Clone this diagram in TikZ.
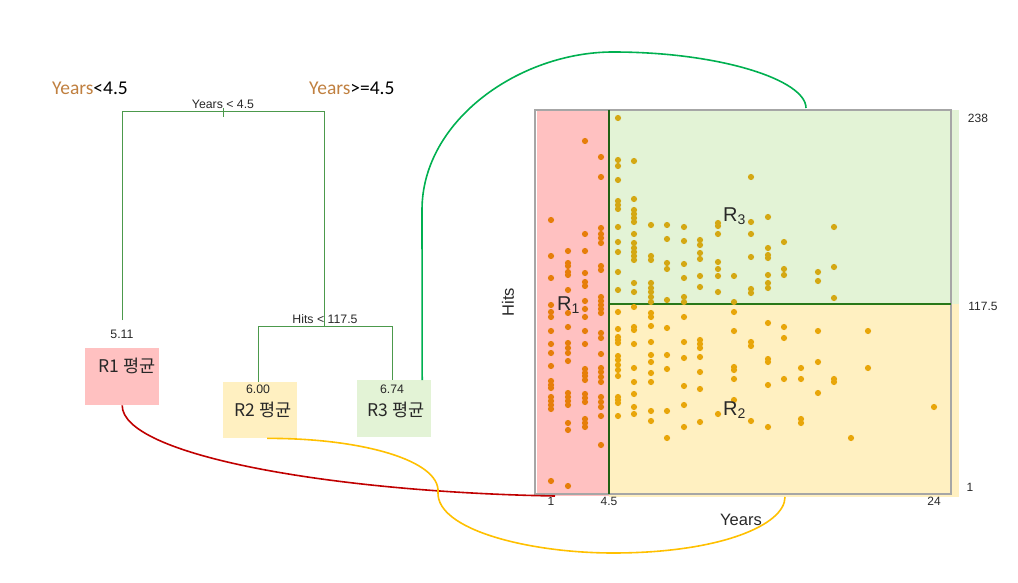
\documentclass[tikz,border=0pt]{standalone}
\usepackage{fontspec}
\setmainfont{Liberation Sans}
\newfontfamily\krfont{Noto Sans CJK KR}
\newfontfamily\calfont{Carlito}
\definecolor{treegreen}{RGB}{76,153,76}
\definecolor{pinkfill}{RGB}{255,193,193}
\definecolor{yelfill}{RGB}{255,240,193}
\definecolor{grnfill}{RGB}{227,243,214}
\definecolor{orangept}{RGB}{230,126,10}
\definecolor{goldpt}{RGB}{212,168,20}
\definecolor{yelpt}{RGB}{232,166,10}
\definecolor{brownlbl}{RGB}{192,128,64}
\definecolor{curvered}{RGB}{192,0,0}
\definecolor{curveyel}{RGB}{255,192,0}
\definecolor{curvegrn}{RGB}{0,176,80}
\definecolor{splitgrn}{RGB}{40,120,25}
\definecolor{txtgray}{RGB}{40,40,40}
\begin{document}
\begin{tikzpicture}[x=1pt,y=-1pt,
  treeline/.style={draw=treegreen,line width=1pt},
  small/.style={font=\fontsize{12.3}{14}\selectfont,text=txtgray,inner sep=0pt},
  axlbl/.style={font=\fontsize{12}{14}\selectfont,text=txtgray,inner sep=0pt},
  leafbox/.style={draw=none,inner sep=0pt,minimum width=74pt},
  leaftxt/.style={font=\krfont\fontsize{17.5}{19}\selectfont,text=txtgray,inner sep=0pt},
  reglbl/.style={font=\fontsize{20}{22}\selectfont,text=txtgray,inner sep=0pt},
  toplbl/.style={font=\calfont\fontsize{19.5}{21}\selectfont,inner sep=0pt},
  conn/.style={line width=1.6pt}]
\useasboundingbox (0,0) rectangle (1018,583);

% top labels
\node[toplbl,anchor=west] (lblA) at (52,88) {\textcolor{brownlbl}{Years}<4.5};
\node[toplbl,anchor=west] (lblB) at (309,88) {\textcolor{brownlbl}{Years}>=4.5};

% tree
\node[small] (s1) at (223,104) {Years < 4.5};
\coordinate (tL) at (122,112);
\coordinate (tR) at (324,112);
\draw[treeline] (122,320) -- (tL) -- (tR) -- (324,326);
\draw[treeline] (223,108) -- (223,117);
\node[small] (s2) at (325,319) {Hits < 117.5};
\draw[treeline] (258,382) -- (258,326) -- (392,326) -- (392,380);
\node[small] (v1) at (122,334) {5.11};

% leaf boxes
\node[leafbox,fill=pinkfill,minimum height=57pt,anchor=north west] (r1) at (85,348) {};
\node[leafbox,fill=yelfill,minimum height=56pt,anchor=north west] (r2) at (223,382) {};
\node[leafbox,fill=grnfill,minimum height=57pt,anchor=north west] (r3) at (357,380) {};
\node[leaftxt] (r1t) at (127,366) {R1 평균};
\node[small] (v2) at (258,389) {6.00};
\node[leaftxt] (r2t) at (263,410) {R2 평균};
\node[small] (v3) at (392,389) {6.74};
\node[leaftxt] (r3t) at (396,410) {R3 평균};

% plot regions
\fill[pinkfill] (537,110) rectangle (609,496);
\fill[grnfill] (609,110) rectangle (959,304);
\fill[yelfill] (609,304) rectangle (959,497);
\draw[gray!70,line width=1.6pt] (535,110) rectangle (951,494);
\draw[splitgrn,line width=2pt] (609,304) -- (951,304);
\draw[splitgrn!80!black,line width=1.6pt] (609,110) -- (609,494);

% points
\foreach \x/\ys in {551/{220,256,278,305,312,317,331,344,353,366,381,385,388,397,401,405,409,481},
                    568/{251,263,266,272,275,290,313,327,343,348,353,361,393,397,401,405,423,430,486},
                    585/{141,234,251,273,282,286,301,309,317,331,344,369,373,376,380,394,398,402,419,423,427},
                    601/{157,177,228,234,238,243,266,270,297,301,305,309,313,333,338,354,368,372,377,382,397,402,407,416,445}}
  \foreach \y in \ys \fill[orangept] (\x,\y) circle (3.1pt);
\foreach \x/\ys in {618/{118,160,166,180,201,205,209,227,242,252,272,290},
                    634/{161,199,210,214,218,222,234,243,248,252,256,260,283,292},
                    651/{225,256,260,283,288,292,297,302},
                    667/{225,239,263,269,300},
                    684/{227,241,264,278,297,302},
                    700/{240,245,253,259,276,287},
                    718/{223,226,234,262,269,276,292},
                    734/{276,302},
                    751/{177,222,234,257,289,293},
                    768/{217,248,255,258,275,283,288},
                    784/{242,269,275},
                    818/{272,281},
                    834/{227,267,298}}
  \foreach \y in \ys \fill[goldpt] (\x,\y) circle (3.1pt);
\foreach \x/\ys in {618/{312,329,337,340,343,356,360,365,370,376,397,400,403,416},
                    634/{307,327,330,344,368,382,394,407,414},
                    651/{313,317,326,342,355,362,373,382,411,421},
                    667/{328,355,369,411,438},
                    684/{317,342,358,386,405,427},
                    700/{340,344,348,357,372,389,422},
                    718/{414},
                    734/{312,331,367,370,379,400},
                    751/{342,346,421},
                    768/{323,359,362,385,427},
                    784/{327,338,379},
                    801/{368,379,419,423},
                    818/{331,362,393},
                    834/{379,382},
                    851/{438},
                    868/{331,368},
                    934/{407}}
  \foreach \y in \ys \fill[yelpt] (\x,\y) circle (3.1pt);

% region labels
\node[reglbl,anchor=west] (R1l) at (557,305) {R\textsubscript{1}};
\node[reglbl,anchor=west] (R3l) at (723,216) {R\textsubscript{3}};
\node[reglbl,anchor=west] (R2l) at (723,410) {R\textsubscript{2}};

% axes labels
\node[axlbl] (y1) at (978,118) {238};
\node[axlbl] (y2) at (983,306) {117.5};
\node[axlbl] (y3) at (970,487) {1};
\node[axlbl] (x1) at (551,501) {1};
\node[axlbl] (x2) at (609,501) {4.5};
\node[axlbl] (x3) at (934,501) {24};
\node[font=\fontsize{16.5}{18}\selectfont,text=txtgray,inner sep=0pt] (xl) at (741,520) {Years};
\node[font=\fontsize{16.5}{18}\selectfont,text=txtgray,inner sep=0pt,rotate=90] (yl) at (508,302) {Hits};

% connectors
\coordinate (redEnd) at (555,496);
\coordinate (yelEnd) at (785,497);
\coordinate (grnEnd) at (806,108);
\draw[conn,curvered] (r1.south) .. controls (122,455) and (330,492) .. (redEnd);
\draw[conn,curveyel] ([xshift=7pt]r2.south) .. controls (360,438) and (440,460) .. (438,492)
   .. controls (436,530) and (530,553) .. (613,553) .. controls (720,553) and (785,525) .. (yelEnd);
\draw[conn,curvegrn] ([xshift=28pt]r3.north) -- (422,210) .. controls (422,120) and (520,52) .. (613,52)
   .. controls (720,52) and (806,80) .. (grnEnd);
\end{tikzpicture}
\end{document}
